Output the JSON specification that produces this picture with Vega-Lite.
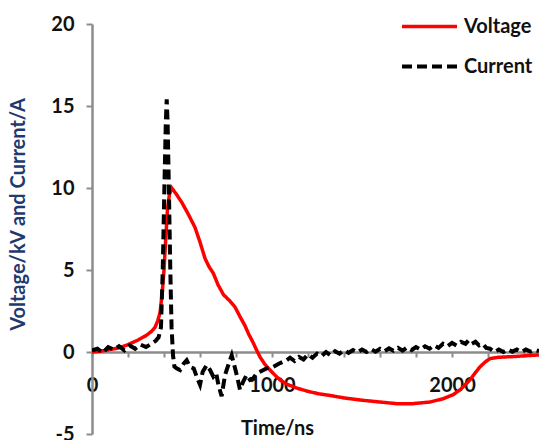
{
  "$schema": "https://vega.github.io/schema/vega-lite/v6.json",
  "width": 447,
  "height": 410,
  "autosize": {"type": "none"},
  "padding": {"left": 92, "top": 24, "right": 0, "bottom": 6},
  "background": "white",
  "config": {
    "view": {"stroke": null},
    "font": "Lato",
    "axis": {"grid": false, "domainColor": "#8c8c8c", "domainWidth": 2.5, "tickColor": "#8c8c8c", "tickWidth": 2, "labelFont": "Lato", "labelFontWeight": "bold", "labelFontSize": 20, "labelColor": "#111111", "titleFont": "Lato", "titleFontWeight": "bold", "titleFontSize": 20}
  },
  "data": {
    "values": [
      {"s":"Voltage","t":0,"v":0},{"s":"Voltage","t":50,"v":0.05},{"s":"Voltage","t":100,"v":0.15},{"s":"Voltage","t":150,"v":0.25},{"s":"Voltage","t":200,"v":0.45},{"s":"Voltage","t":250,"v":0.7},{"s":"Voltage","t":300,"v":1.0},{"s":"Voltage","t":330,"v":1.25},{"s":"Voltage","t":350,"v":1.5},{"s":"Voltage","t":365,"v":1.9},{"s":"Voltage","t":378,"v":2.4},{"s":"Voltage","t":390,"v":3.6},{"s":"Voltage","t":400,"v":5.0},{"s":"Voltage","t":410,"v":7.0},{"s":"Voltage","t":420,"v":8.8},{"s":"Voltage","t":430,"v":9.6},{"s":"Voltage","t":443,"v":10.0},{"s":"Voltage","t":470,"v":9.6},{"s":"Voltage","t":500,"v":9.1},{"s":"Voltage","t":535,"v":8.4},{"s":"Voltage","t":572,"v":7.6},{"s":"Voltage","t":600,"v":6.7},{"s":"Voltage","t":628,"v":5.7},{"s":"Voltage","t":650,"v":5.2},{"s":"Voltage","t":674,"v":4.8},{"s":"Voltage","t":700,"v":4.1},{"s":"Voltage","t":730,"v":3.5},{"s":"Voltage","t":767,"v":3.1},{"s":"Voltage","t":794,"v":2.75},{"s":"Voltage","t":820,"v":2.2},{"s":"Voltage","t":850,"v":1.6},{"s":"Voltage","t":870,"v":1.1},{"s":"Voltage","t":896,"v":0.55},{"s":"Voltage","t":915,"v":0.1},{"s":"Voltage","t":933,"v":-0.3},{"s":"Voltage","t":960,"v":-0.75},{"s":"Voltage","t":989,"v":-1.1},{"s":"Voltage","t":1020,"v":-1.45},{"s":"Voltage","t":1044,"v":-1.7},{"s":"Voltage","t":1080,"v":-1.95},{"s":"Voltage","t":1137,"v":-2.2},{"s":"Voltage","t":1200,"v":-2.4},{"s":"Voltage","t":1260,"v":-2.55},{"s":"Voltage","t":1322,"v":-2.65},{"s":"Voltage","t":1400,"v":-2.8},{"s":"Voltage","t":1507,"v":-2.95},{"s":"Voltage","t":1600,"v":-3.05},{"s":"Voltage","t":1693,"v":-3.15},{"s":"Voltage","t":1780,"v":-3.15},{"s":"Voltage","t":1878,"v":-3.05},{"s":"Voltage","t":1950,"v":-2.85},{"s":"Voltage","t":2007,"v":-2.6},{"s":"Voltage","t":2050,"v":-2.25},{"s":"Voltage","t":2100,"v":-1.7},{"s":"Voltage","t":2130,"v":-1.25},{"s":"Voltage","t":2156,"v":-0.9},{"s":"Voltage","t":2185,"v":-0.6},{"s":"Voltage","t":2211,"v":-0.4},{"s":"Voltage","t":2260,"v":-0.32},{"s":"Voltage","t":2341,"v":-0.28},{"s":"Voltage","t":2420,"v":-0.22},{"s":"Voltage","t":2483,"v":-0.18},
      {"s":"Current","t":0,"v":0.1},{"s":"Current","t":30,"v":0.2},{"s":"Current","t":60,"v":-0.05},{"s":"Current","t":90,"v":0.3},{"s":"Current","t":120,"v":0.15},{"s":"Current","t":150,"v":0.35},{"s":"Current","t":180,"v":0.1},{"s":"Current","t":210,"v":0.4},{"s":"Current","t":240,"v":0.2},{"s":"Current","t":270,"v":0.45},{"s":"Current","t":300,"v":0.3},{"s":"Current","t":330,"v":0.5},{"s":"Current","t":355,"v":0.7},{"s":"Current","t":370,"v":0.9},{"s":"Current","t":383,"v":1.5},{"s":"Current","t":393,"v":5},{"s":"Current","t":402,"v":10},{"s":"Current","t":410,"v":14},{"s":"Current","t":415,"v":15.4},{"s":"Current","t":420,"v":14},{"s":"Current","t":427,"v":10},{"s":"Current","t":435,"v":5},{"s":"Current","t":442,"v":1.5},{"s":"Current","t":450,"v":-0.2},{"s":"Current","t":458,"v":-0.9},{"s":"Current","t":470,"v":-1.0},{"s":"Current","t":489,"v":-1.1},{"s":"Current","t":510,"v":-0.7},{"s":"Current","t":526,"v":-0.5},{"s":"Current","t":544,"v":-0.9},{"s":"Current","t":565,"v":-1.0},{"s":"Current","t":585,"v":-1.6},{"s":"Current","t":600,"v":-2.0},{"s":"Current","t":615,"v":-1.2},{"s":"Current","t":637,"v":-0.8},{"s":"Current","t":656,"v":-1.1},{"s":"Current","t":674,"v":-1.5},{"s":"Current","t":690,"v":-1.3},{"s":"Current","t":702,"v":-2.0},{"s":"Current","t":720,"v":-2.7},{"s":"Current","t":739,"v":-1.4},{"s":"Current","t":760,"v":-0.7},{"s":"Current","t":776,"v":-0.2},{"s":"Current","t":790,"v":-0.8},{"s":"Current","t":804,"v":-1.4},{"s":"Current","t":822,"v":-2.3},{"s":"Current","t":840,"v":-1.8},{"s":"Current","t":859,"v":-1.4},{"s":"Current","t":878,"v":-1.7},{"s":"Current","t":896,"v":-1.6},{"s":"Current","t":915,"v":-1.3},{"s":"Current","t":933,"v":-1.2},{"s":"Current","t":970,"v":-1.0},{"s":"Current","t":1007,"v":-0.9},{"s":"Current","t":1040,"v":-0.7},{"s":"Current","t":1081,"v":-0.5},
      {"s":"Current","t":1100,"v":-0.35},{"s":"Current","t":1125,"v":-0.55},{"s":"Current","t":1150,"v":-0.3},{"s":"Current","t":1175,"v":-0.45},{"s":"Current","t":1200,"v":-0.15},{"s":"Current","t":1225,"v":-0.35},{"s":"Current","t":1250,"v":-0.1},{"s":"Current","t":1275,"v":-0.25},{"s":"Current","t":1300,"v":0.0},{"s":"Current","t":1325,"v":-0.2},{"s":"Current","t":1350,"v":0.05},{"s":"Current","t":1375,"v":-0.1},{"s":"Current","t":1400,"v":0.1},{"s":"Current","t":1425,"v":-0.05},{"s":"Current","t":1450,"v":0.12},{"s":"Current","t":1475,"v":-0.02},{"s":"Current","t":1500,"v":0.15},{"s":"Current","t":1525,"v":0.0},{"s":"Current","t":1550,"v":0.18},{"s":"Current","t":1575,"v":0.02},{"s":"Current","t":1600,"v":0.2},{"s":"Current","t":1625,"v":0.05},{"s":"Current","t":1650,"v":0.22},{"s":"Current","t":1675,"v":0.08},{"s":"Current","t":1700,"v":0.25},{"s":"Current","t":1725,"v":0.08},{"s":"Current","t":1750,"v":0.28},{"s":"Current","t":1775,"v":0.12},{"s":"Current","t":1800,"v":0.3},{"s":"Current","t":1825,"v":0.15},{"s":"Current","t":1850,"v":0.35},{"s":"Current","t":1875,"v":0.2},{"s":"Current","t":1900,"v":0.4},{"s":"Current","t":1925,"v":0.25},{"s":"Current","t":1950,"v":0.5},{"s":"Current","t":1975,"v":0.35},{"s":"Current","t":2000,"v":0.55},{"s":"Current","t":2025,"v":0.4},{"s":"Current","t":2050,"v":0.62},{"s":"Current","t":2075,"v":0.5},{"s":"Current","t":2091,"v":0.7},{"s":"Current","t":2110,"v":0.5},{"s":"Current","t":2130,"v":0.62},{"s":"Current","t":2150,"v":0.4},{"s":"Current","t":2170,"v":0.5},{"s":"Current","t":2190,"v":0.25},{"s":"Current","t":2211,"v":0.2},{"s":"Current","t":2235,"v":0.0},{"s":"Current","t":2260,"v":0.15},{"s":"Current","t":2285,"v":0.0},{"s":"Current","t":2310,"v":0.15},{"s":"Current","t":2335,"v":0.02},{"s":"Current","t":2360,"v":0.15},{"s":"Current","t":2385,"v":0.0},{"s":"Current","t":2410,"v":0.15},{"s":"Current","t":2435,"v":0.02},{"s":"Current","t":2460,"v":0.12},{"s":"Current","t":2483,"v":0.05}
    ]
  },
  "mark": {"type": "line", "clip": true},
  "encoding": {
    "x": {
      "field": "t", "type": "quantitative",
      "scale": {"domain": [0, 2483], "nice": false, "zero": false},
      "axis": {"values": [0,200,400,600,800,1000,1200,1400,1600,1800,2000,2200,2400], "format": "d", "labelExpr": "datum.value % 1000 === 0 ? datum.label : ''", "offset": -82, "tickSize": 5, "labelPadding": 18, "labelFlush": false, "labelOverlap": false, "title": "Time/ns", "titleColor": "#111111", "titleX": 185, "titleY": 76, "titleAlign": "center", "titleBaseline": "middle", "titleAnchor": null}
    },
    "y": {
      "field": "v", "type": "quantitative",
      "scale": {"domain": [-5, 20], "nice": false},
      "axis": {"values": [-5,0,5,10,15,20], "labelExpr": "datum.value < 0 ? '-' + abs(datum.value) : datum.label", "tickSize": 6, "labelPadding": 12, "title": "Voltage/kV and Current/A", "titleColor": "#1f3a6e", "titleX": -64, "titleY": 190, "titleAlign": "center", "titleBaseline": "bottom", "titleAngle": -90}
    },
    "color": {
      "field": "s", "type": "nominal",
      "scale": {"domain": ["Voltage", "Current"], "range": ["#ff0000", "#000000"]},
      "legend": {"title": null, "orient": "none", "legendX": 308, "legendY": -27, "padding": 0, "symbolType": "stroke", "symbolSize": 3025, "symbolStrokeWidth": 4, "rowPadding": -17, "labelOffset": 5, "labelFont": "Lato", "labelFontWeight": "bold", "labelFontSize": 20, "labelColor": "#111111", "labelLimit": 200}
    },
    "strokeDash": {
      "field": "s", "type": "nominal",
      "scale": {"domain": ["Voltage", "Current"], "range": [[1, 0], [10, 5]]},
      "legend": null
    },
    "strokeWidth": {
      "field": "s", "type": "nominal",
      "scale": {"domain": ["Voltage", "Current"], "range": [3.5, 4]},
      "legend": null
    }
  }
}
